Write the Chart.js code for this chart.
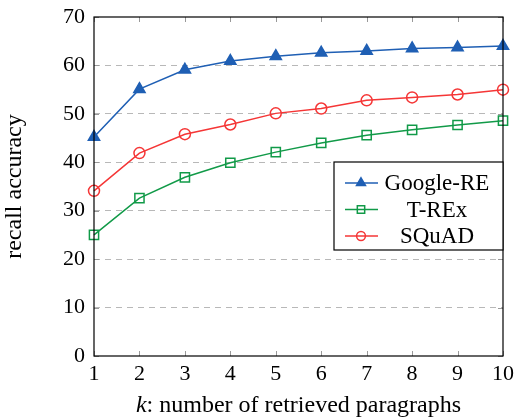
<!DOCTYPE html>
<html>
<head>
<meta charset="utf-8">
<script src="https://cdn.jsdelivr.net/npm/chart.js@4.4.1/dist/chart.umd.min.js"></script>
<style>
  body { margin: 0; background: #fff; }
  #wrap { width: 516px; height: 417px; }
</style>
</head>
<body>
<div id="wrap"><canvas id="chart" width="516" height="417"></canvas></div>
<script>
const kValues = [1, 2, 3, 4, 5, 6, 7, 8, 9, 10];
const googleRE = [45.2, 55.1, 59.1, 60.9, 61.9, 62.6, 63.0, 63.5, 63.7, 64.0];
const tREx = [25.0, 32.6, 36.9, 39.9, 42.1, 44.0, 45.6, 46.7, 47.7, 48.6];
const squad = [34.1, 41.9, 45.8, 47.8, 50.1, 51.1, 52.8, 53.4, 54.0, 55.0];
const yTicks = [0, 10, 20, 30, 40, 50, 60, 70];

const serif = "'Liberation Serif', 'DejaVu Serif', serif";
const blue = "#1f5fb4";
const green = "#119a48";
const red = "#f53636";

// box, inward ticks, x title and legend drawn by hand
const framePlugin = {
    id: "frame",
    afterDraw(chart) {
        const ctx = chart.ctx;
        const a = chart.chartArea;
        const xs = chart.scales.x;
        const ys = chart.scales.y;
        ctx.save();
        ctx.strokeStyle = "#999";
        ctx.lineWidth = 1;
        ctx.beginPath();
        kValues.forEach((k, i) => {
            const px = Math.round(xs.getPixelForValue(i)) + 0.5;
            ctx.moveTo(px, a.bottom); ctx.lineTo(px, a.bottom - 5);
            ctx.moveTo(px, a.top); ctx.lineTo(px, a.top + 5);
        });
        yTicks.forEach(v => {
            const py = Math.round(ys.getPixelForValue(v)) + 0.5;
            ctx.moveTo(a.left, py); ctx.lineTo(a.left + 5, py);
            ctx.moveTo(a.right, py); ctx.lineTo(a.right - 5, py);
        });
        ctx.stroke();

        ctx.strokeStyle = "#000";
        ctx.lineWidth = 1.2;
        ctx.strokeRect(a.left, a.top, a.right - a.left, a.bottom - a.top);

        // x title
        ctx.fillStyle = "#000";
        ctx.textBaseline = "alphabetic";
        const t1 = "k";
        const t2 = ": number of retrieved paragraphs";
        ctx.font = "italic 24px " + serif;
        const w1 = ctx.measureText(t1).width;
        ctx.font = "24px " + serif;
        const w2 = ctx.measureText(t2).width;
        const cx = (a.left + a.right) / 2;
        const sx = cx - (w1 + w2) / 2;
        ctx.font = "italic 24px " + serif;
        ctx.fillText(t1, sx, 412);
        ctx.font = "24px " + serif;
        ctx.fillText(t2, sx + w1, 412);

        // legend
        const lx = 334, ly = 162, lw = a.right - 334, lh = 88;
        ctx.fillStyle = "#fff";
        ctx.fillRect(lx, ly, lw, lh);
        ctx.strokeStyle = "#000";
        ctx.lineWidth = 1.2;
        ctx.strokeRect(lx, ly, lw, lh);
        chart.data.datasets.forEach((ds, i) => {
            const ry = ly + 21 + i * 26.5;
            ctx.strokeStyle = ds.borderColor;
            ctx.lineWidth = 1.5;
            ctx.beginPath();
            ctx.moveTo(lx + 11, ry); ctx.lineTo(lx + 44, ry);
            ctx.stroke();
            ctx.fillStyle = ds.pointBackgroundColor;
            ctx.strokeStyle = ds.borderColor;
            Chart.helpers.drawPoint(ctx, {
                pointStyle: ds.pointStyle,
                radius: ds.pointRadius * 0.8,
                borderWidth: 1.5,
                rotation: 0
            }, lx + 27, ry);
            ctx.fillStyle = "#000";
            ctx.font = "23px " + serif;
            ctx.textAlign = "center";
            ctx.textBaseline = "middle";
            ctx.fillText(ds.label, lx + 103, ry + 1);
        });
        ctx.restore();
    }
};

const ctx = document.getElementById("chart").getContext("2d");
new Chart(ctx, {
    type: "line",
    data: {
        labels: kValues,
        datasets: [
            { label: "Google-RE", data: googleRE, borderColor: blue, backgroundColor: blue,
              pointBackgroundColor: blue, pointStyle: "triangle", pointRadius: 6.5 },
            { label: "T-REx", data: tREx, borderColor: green, backgroundColor: "transparent",
              pointBackgroundColor: "transparent", pointStyle: "rect", pointRadius: 6.5 },
            { label: "SQuAD", data: squad, borderColor: red, backgroundColor: "transparent",
              pointBackgroundColor: "transparent", pointStyle: "circle", pointRadius: 5.5 }
        ]
    },
    options: {
        responsive: false,
        animation: false,
        layout: { padding: { top: 17, right: 13, left: 0, bottom: 0 } },
        elements: {
            line: { borderWidth: 1.5, tension: 0 },
            point: { borderWidth: 1.5, hoverRadius: 6 }
        },
        plugins: {
            legend: { display: false },
            tooltip: { enabled: false }
        },
        scales: {
            x: {
                type: "category",
                offset: false,
                grid: { display: false, drawTicks: false },
                border: { display: false },
                ticks: { color: "#000", font: { family: serif, size: 22 }, padding: 5, maxRotation: 0 },
                afterFit(s) { s.height = 61; s.paddingLeft = 0; s.paddingRight = 0; }
            },
            y: {
                min: 0,
                max: 70,
                afterBuildTicks(s) { s.ticks = yTicks.map(v => ({ value: v })); },
                grid: {
                    color: (c) => (c.tick.value === 0 || c.tick.value === 70) ? "transparent" : "#b8b8b8",
                    lineWidth: 1,
                    drawTicks: false
                },
                border: { display: false, dash: [6, 5] },
                ticks: { color: "#000", font: { family: serif, size: 22 }, padding: 9 },
                title: {
                    display: true,
                    text: "recall accuracy",
                    color: "#000",
                    font: { family: serif, size: 24 },
                    padding: { top: 0, bottom: 6 }
                },
                afterFit(s) { s.width = 94; s.paddingTop = 0; s.paddingBottom = 0; }
            }
        }
    },
    plugins: [framePlugin]
});
</script>
</body>
</html>
